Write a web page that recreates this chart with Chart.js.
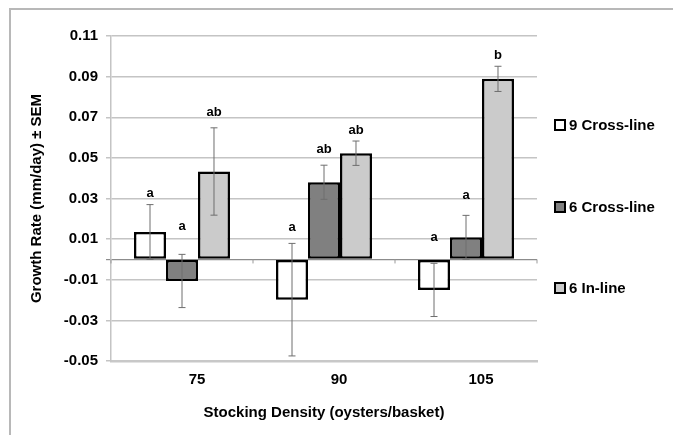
<!DOCTYPE html>
<html>
<head>
<meta charset="utf-8">
<script src="https://cdn.jsdelivr.net/npm/chart.js@4/dist/chart.umd.min.js"></script>
<style>
  html, body { margin: 0; padding: 0; background: #ffffff; width: 673px; height: 435px; overflow: hidden; position: relative; }
  #frame { position: absolute; left: 9px; top: 8px; width: 2000px; height: 2000px; border-left: 2px solid #b8b8b8; border-top: 2px solid #b8b8b8; }
  #c { position: absolute; left: 0; top: 0; }
</style>
</head>
<body>
<div id="frame"></div>
<canvas id="c" width="673" height="435"></canvas>
<script>
// ---- data ----
const categories = ['75', '90', '105'];
const seriesNames = ['9 Cross-line', '6 Cross-line', '6 In-line'];
const nineCross = [0.0135, -0.0198, -0.0150];
const sixCross = [-0.0106, 0.0380, 0.0109];
const sixInline = [0.0433, 0.0523, 0.0889];
const nineCrossSem = [0.0135, 0.0277, 0.0131];
const sixCrossSem = [0.0131, 0.0084, 0.0108];
const sixInlineSem = [0.0215, 0.0060, 0.0062];
const nineCrossLetters = ['a', 'a', 'a'];
const sixCrossLetters = ['a', 'ab', 'a'];
const sixInlineLetters = ['ab', 'ab', 'b'];
const nineCrossLetterAt = [0.0326, 0.0158, 0.0109];
const sixCrossLetterAt = [0.0163, 0.0543, 0.0316];
const sixInlineLetterAt = [0.0726, 0.0637, 0.1002];
const yTicks = [-0.05, -0.03, -0.01, 0.01, 0.03, 0.05, 0.07, 0.09, 0.11];

const FONT = "'Liberation Sans', Arial, sans-serif";
Chart.defaults.font.family = FONT;
Chart.defaults.color = '#000';

const sems = [nineCrossSem, sixCrossSem, sixInlineSem];
const letters = [nineCrossLetters, sixCrossLetters, sixInlineLetters];
const letterAt = [nineCrossLetterAt, sixCrossLetterAt, sixInlineLetterAt];
const fills = ['#ffffff', '#808080', '#cbcbcb'];

const extras = {
  id: 'extras',
  afterDatasetsDraw(chart) {
    const ctx = chart.ctx;
    const y = chart.scales.y;
    const area = chart.chartArea;
    // small category-boundary marks on the zero line
    ctx.save();
    ctx.strokeStyle = '#999';
    ctx.lineWidth = 1;
    const y0 = y.getPixelForValue(0);
    for (let i = 0; i <= categories.length; i++) {
      const px = area.left + (area.right - area.left) * i / categories.length;
      ctx.beginPath();
      ctx.moveTo(px, y0);
      ctx.lineTo(px, y0 + 4);
      ctx.stroke();
    }
    // error bars
    ctx.strokeStyle = '#6e6e6e';
    ctx.lineWidth = 1;
    chart.data.datasets.forEach((ds, di) => {
      const meta = chart.getDatasetMeta(di);
      meta.data.forEach((bar, i) => {
        const v = ds.data[i], e = sems[di][i];
        const top = y.getPixelForValue(v + e), bot = y.getPixelForValue(v - e);
        const cx = bar.x;
        ctx.beginPath();
        ctx.moveTo(cx, top); ctx.lineTo(cx, bot);
        ctx.moveTo(cx - 3.5, top); ctx.lineTo(cx + 3.5, top);
        ctx.moveTo(cx - 3.5, bot); ctx.lineTo(cx + 3.5, bot);
        ctx.stroke();
      });
    });
    // significance letters
    ctx.fillStyle = '#000';
    ctx.font = "bold 13px " + FONT;
    ctx.textAlign = 'center';
    ctx.textBaseline = 'middle';
    chart.data.datasets.forEach((ds, di) => {
      const meta = chart.getDatasetMeta(di);
      meta.data.forEach((bar, i) => {
        ctx.fillText(letters[di][i], bar.x, y.getPixelForValue(letterAt[di][i]));
      });
    });
    // legend
    const legendY = [125, 207, 288];
    ctx.font = "bold 15px " + FONT;
    ctx.textAlign = 'left';
    chart.data.datasets.forEach((ds, di) => {
      const ly = legendY[di];
      ctx.fillStyle = ds.backgroundColor;
      ctx.fillRect(555, ly - 5, 10, 10);
      ctx.strokeStyle = '#000';
      ctx.lineWidth = 2;
      ctx.strokeRect(555, ly - 5, 10, 10);
      ctx.fillStyle = '#000';
      ctx.fillText(ds.label, 569, ly + 1);
    });
    ctx.restore();
  }
};

new Chart(document.getElementById('c'), {
  type: 'bar',
  data: {
    labels: categories,
    datasets: [
      { label: seriesNames[0], data: nineCross, backgroundColor: fills[0] },
      { label: seriesNames[1], data: sixCross, backgroundColor: fills[1] },
      { label: seriesNames[2], data: sixInline, backgroundColor: fills[2] }
    ]
  },
  options: {
    responsive: false,
    animation: false,
    devicePixelRatio: 1,
    layout: { padding: { left: 0, right: 136, top: 36, bottom: 0 } },
    datasets: {
      bar: {
        borderColor: '#000',
        borderWidth: 2.5,
        borderSkipped: false,
        categoryPercentage: 0.676,
        barPercentage: 1.0
      }
    },
    plugins: {
      legend: { display: false },
      tooltip: { enabled: false }
    },
    scales: {
      x: {
        grid: { display: false, drawTicks: false },
        border: { display: true, color: '#c8c8c8', width: 2.5 },
        ticks: { font: { size: 15, weight: 'bold' }, padding: 10, labelOffset: 15 },
        title: {
          display: true,
          text: 'Stocking Density (oysters/basket)',
          font: { size: 15, weight: 'bold' },
          padding: { top: 0, bottom: 13 }
        },
        afterFit(scale) { scale.height = 74; }
      },
      y: {
        min: -0.05,
        max: 0.11,
        afterBuildTicks(scale) {
          scale.ticks = yTicks.concat([0]).sort((a, b) => a - b).map(v => ({ value: v }));
        },
        ticks: {
          font: { size: 15, weight: 'bold' },
          padding: 8,
          callback: (v) => (v === 0 ? '' : v.toFixed(2))
        },
        grid: {
          color: (c) => (c.tick && c.tick.value === 0 ? '#8c8c8c' : '#c4c4c4'),
          lineWidth: (c) => (c.tick && c.tick.value === 0 ? 1.2 : 1.5),
          tickLength: 5
        },
        border: { display: true, color: '#c4c4c4', width: 1.5 },
        title: {
          display: true,
          text: 'Growth Rate (mm/day) ± SEM',
          font: { size: 15, weight: 'bold' },
          padding: { top: 28, bottom: 0 }
        },
        afterFit(scale) { scale.width = 111; }
      }
    }
  },
  plugins: [extras]
});
</script>
</body>
</html>
